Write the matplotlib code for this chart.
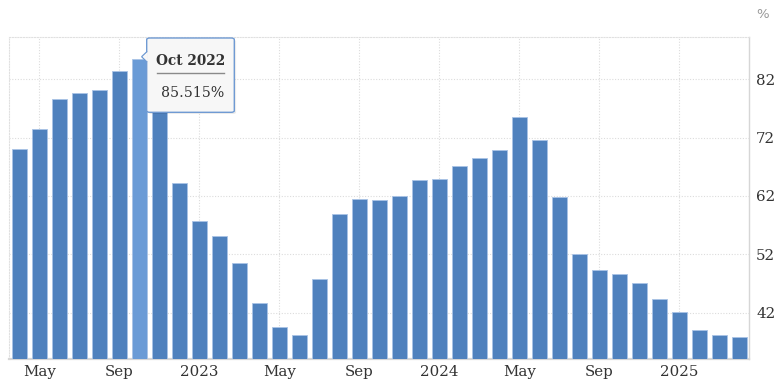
import matplotlib.pyplot as plt
import numpy as np
from matplotlib.patches import FancyBboxPatch, Polygon

# Turkey annual inflation, Apr 2022 - Apr 2025 (%)
months = ['Apr 2022', 'May 2022', 'Jun 2022', 'Jul 2022', 'Aug 2022', 'Sep 2022', 'Oct 2022',
          'Nov 2022', 'Dec 2022', 'Jan 2023', 'Feb 2023', 'Mar 2023', 'Apr 2023', 'May 2023',
          'Jun 2023', 'Jul 2023', 'Aug 2023', 'Sep 2023', 'Oct 2023', 'Nov 2023', 'Dec 2023',
          'Jan 2024', 'Feb 2024', 'Mar 2024', 'Apr 2024', 'May 2024', 'Jun 2024', 'Jul 2024',
          'Aug 2024', 'Sep 2024', 'Oct 2024', 'Nov 2024', 'Dec 2024', 'Jan 2025', 'Feb 2025',
          'Mar 2025', 'Apr 2025']
values = [69.97, 73.50, 78.62, 79.60, 80.21, 83.45, 85.515,
          84.39, 64.27, 57.68, 55.18, 50.51, 43.68, 39.59,
          38.21, 47.83, 58.94, 61.53, 61.36, 61.98, 64.77,
          64.86, 67.07, 68.50, 69.80, 75.45, 71.60, 61.78,
          51.97, 49.38, 48.58, 47.09, 44.38, 42.12, 39.05,
          38.10, 37.86]
tick_months = ['May 2022', 'Sep 2022', 'Jan 2023', 'May 2023', 'Sep 2023',
               'Jan 2024', 'May 2024', 'Sep 2024', 'Jan 2025']
tick_labels = ['May', 'Sep', '2023', 'May', 'Sep', '2024', 'May', 'Sep', '2025']
y_ticks = [42, 52, 62, 72, 82]
highlight = 'Oct 2022'

W, H = 777, 387
fig = plt.figure(figsize=(W / 100, H / 100), dpi=100)
ax = fig.add_axes([9.3 / W, 1 - 359.3 / H, 740 / W, (359.3 - 36.7) / H])

x = np.arange(len(months))
colors = ['#6a9bd6' if m == highlight else '#4f81bd' for m in months]
ax.bar(x, values, width=0.76, color=colors, edgecolor='#a9c3e6', linewidth=0.6, zorder=3)

ax.set_xlim(-0.5, len(months) - 0.5)
ax.set_ylim(34, 89.3)

tick_pos = [months.index(m) for m in tick_months]
ax.set_xticks(tick_pos)
ax.set_xticklabels(tick_labels, family='DejaVu Serif', fontsize=10.8, color='#333333')
ax.set_yticks(y_ticks)
ax.set_yticklabels([str(v) for v in y_ticks], family='DejaVu Serif', fontsize=10.8, color='#333333')
ax.yaxis.tick_right()
ax.tick_params(axis='both', length=0)
ax.tick_params(axis='x', pad=4)
ax.tick_params(axis='y', pad=5)

ax.grid(True, color='#dcdcdc', linestyle=(0, (1, 1.5)), linewidth=0.8, zorder=0)
for side in ('top', 'left'):
    ax.spines[side].set_color('#e0e0e0')
    ax.spines[side].set_linestyle((0, (1, 1.5)))
    ax.spines[side].set_linewidth(0.8)
ax.spines['bottom'].set_color('#d6d6d6')
ax.spines['bottom'].set_linewidth(1.6)
ax.spines['right'].set_color('#d6d6d6')
ax.spines['right'].set_linewidth(1.0)

fig.text(763 / W, 1 - 15 / H, '%', ha='center', va='center', fontsize=9.5, color='#999999',
         family='DejaVu Sans')


# tooltip
def px(xp, yp):
    return xp / W, 1 - yp / H


shadow = FancyBboxPatch(px(148.5, 114), 87.6 / W, 74.3 / H,
                        boxstyle='round,pad=0,rounding_size=0.004', transform=fig.transFigure,
                        facecolor='#000000', alpha=0.08, edgecolor='none', zorder=9)
fig.patches.append(shadow)
box = FancyBboxPatch(px(146.7, 112.3), 87.6 / W, 74.3 / H,
                     boxstyle='round,pad=0,rounding_size=0.004', transform=fig.transFigure,
                     facecolor='#f7f7f7', edgecolor='#6f9ad3', linewidth=1.0, zorder=10)
fig.patches.append(box)
pointer = Polygon([px(147.2, 51.5), px(141.7, 56.7), px(147.2, 62)], closed=False,
                  transform=fig.transFigure, facecolor='#f7f7f7', edgecolor='#6f9ad3',
                  linewidth=1.0, zorder=11)
fig.patches.append(pointer)
fig.patches.append(Polygon([px(147.9, 51.8), px(142.6, 56.7), px(147.9, 61.7)], closed=True,
                           transform=fig.transFigure, facecolor='#f7f7f7', edgecolor='none',
                           zorder=12))

fig.text(*px(190.5, 61), highlight, ha='center', va='center', fontsize=9.8, fontweight='bold',
         color='#333333', family='DejaVu Serif', zorder=13)
fig.add_artist(plt.Line2D([157.3 / W, 224 / W], [1 - 72.7 / H, 1 - 72.7 / H],
                          color='#8a8a8a', linewidth=1.0, zorder=13))
fig.text(*px(192.5, 93), f'{values[months.index(highlight)]:.3f}%', ha='center', va='center',
         fontsize=10.2, color='#333333', family='DejaVu Serif', zorder=13)

plt.savefig('out.png', dpi=100)
